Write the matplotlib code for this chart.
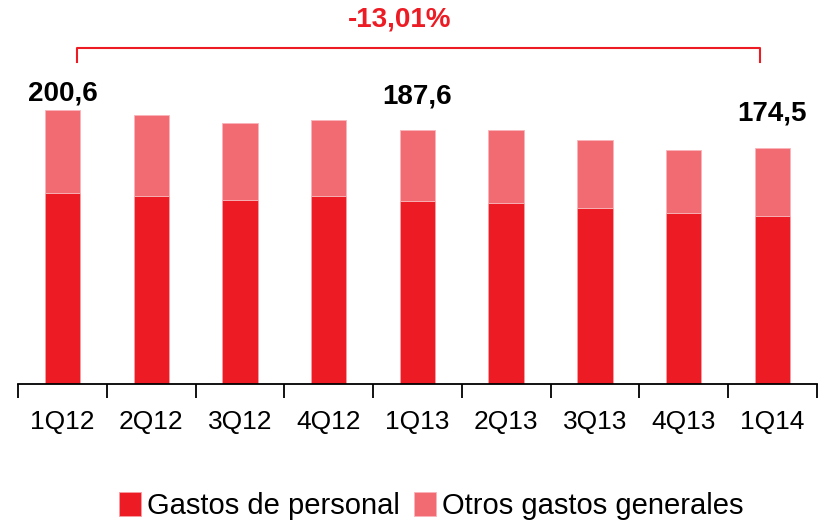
import matplotlib.pyplot as plt
import numpy as np

plt.rcParams['font.family'] = ['Liberation Sans', 'DejaVu Sans']

quarters = ["1Q12", "2Q12", "3Q12", "4Q12", "1Q13", "2Q13", "3Q13", "4Q13", "1Q14"]
personal = [140.0, 138.0, 134.6, 138.0, 134.5, 132.7, 129.2, 125.3, 123.4]
otros = [60.6, 58.9, 56.7, 55.3, 51.9, 53.7, 49.6, 46.2, 49.6]
labels_shown = {0: "200,6", 4: "187,6", 8: "174,5"}
label_y = {0: 213.0, 4: 211.0, 8: 198.0}
change_text = "-13,01%"

RED = "#ED1C24"
PINK = "#F26B72"

fig = plt.figure(figsize=(8.25, 5.24), dpi=100)
ax = fig.add_axes([0.022, 0.267, 0.968, 0.733])

x = np.arange(len(quarters))
w = 0.4
ax.bar(x, personal, width=w, color=RED, edgecolor="#F5A0A4", linewidth=0.6,
       label="Gastos de personal")
ax.bar(x, otros, width=w, bottom=personal, color=PINK, edgecolor="#F8B5B8",
       linewidth=0.6, label="Otros gastos generales")

for i, txt in labels_shown.items():
    ax.text(x[i], label_y[i], txt, ha="center", va="center", fontsize=20,
            fontweight="bold", color="black")

# bracket with the total change
bx0, bx1 = 0.16, 7.86
ax.plot([bx0, bx0, bx1, bx1], [236, 246.3, 246.3, 236], color=RED, lw=1.5,
        solid_joinstyle="round")
ax.text(3.80, 267, change_text, ha="center", va="center",
        fontsize=20, fontweight="bold", color=RED)

ax.set_xlim(-0.5, len(quarters) - 0.5)
ax.set_ylim(0, 281.4)
ax.set_yticks([])
for s in ["left", "right", "top"]:
    ax.spines[s].set_visible(False)
ax.spines["bottom"].set_linewidth(1.3)

ax.set_xticks(x)
ax.set_xticklabels(quarters, fontsize=19)
ax.tick_params(axis="x", which="major", length=0, pad=19)
ax.set_xticks(np.arange(-0.5, len(quarters), 1), minor=True)
ax.tick_params(axis="x", which="minor", length=10, width=1.3, direction="out")

fig.legend(loc="center", bbox_to_anchor=(0.523, 0.034), ncol=2, frameon=False,
           fontsize=21, handlelength=0.75, handleheight=0.9, handletextpad=0.2,
           columnspacing=0.5, borderaxespad=0)

fig.savefig("out.png", dpi=100)
